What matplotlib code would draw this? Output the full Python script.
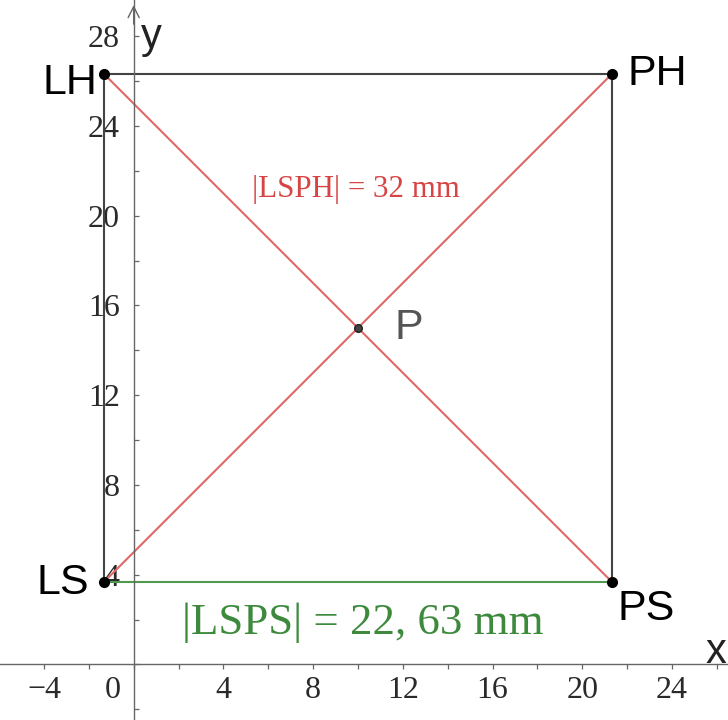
"""
正方形 LS-PS-PH-LH 与对角线交点 P（GeoGebra 风格）
"""
import matplotlib
matplotlib.use('Agg')
import matplotlib.pyplot as plt
from matplotlib.ticker import MultipleLocator, FixedLocator

# 顶点数据
names  = ["LS", "PS", "PH", "LH"]
xs     = [-1.31, 21.31, 21.31, -1.31]
ys     = [3.69, 3.69, 26.31, 26.31]
p_name = "P"
p_xy   = (10.0, 15.0)

diag_text = "|LSPH| = 32 mm"
side_text = "|LSPS| = 22, 63 mm"

x_ticks = [-4, 4, 8, 12, 16, 20, 24]
y_ticks = [4, 8, 12, 16, 20, 24, 28]

XMIN, XMAX = -5.96, 26.5
YMIN, YMAX = -2.48, 29.62

GRAY  = '#444444'
RED   = '#e06868'
GREEN = '#4f9a4f'
SERIF = 'Liberation Serif'
SANS  = 'Liberation Sans'

fig = plt.figure(figsize=(7.28, 7.2), dpi=100)
ax = fig.add_axes([0, 0, 1, 1])
ax.set_xlim(XMIN, XMAX)
ax.set_ylim(YMIN, YMAX)

# 坐标轴过原点
for s in ['top', 'right']:
    ax.spines[s].set_visible(False)
for s in ['left', 'bottom']:
    ax.spines[s].set_position(('data', 0))
    ax.spines[s].set_color('#666666')
    ax.spines[s].set_linewidth(1.0)

ax.xaxis.set_major_locator(FixedLocator(x_ticks))
ax.yaxis.set_major_locator(FixedLocator(y_ticks))
ax.xaxis.set_minor_locator(MultipleLocator(2))
ax.yaxis.set_minor_locator(MultipleLocator(2))
ax.tick_params(axis='x', which='both', direction='out', length=3.5, width=0.9,
               color='#666666', pad=5, labelsize=23, labelcolor='#2a2a2a')
ax.tick_params(axis='y', which='both', direction='in', length=3.5, width=0.9,
               color='#666666', pad=10, labelsize=23, labelcolor='#2a2a2a')
ax.set_xticklabels([f"{t}" if t >= 0 else f"\u2212{-t}" for t in x_ticks])
for lab in ax.get_xticklabels() + ax.get_yticklabels():
    lab.set_family(SERIF)

# 原点标签
ax.text(-0.95, -0.5, "0", fontsize=23, family=SERIF, color='#2a2a2a',
        ha='center', va='top')

# y 轴箭头
ax.annotate('', xy=(0, YMAX - 0.1), xytext=(0, YMAX - 1.2),
            arrowprops=dict(arrowstyle='->', color='#666666', lw=1.0,
                            mutation_scale=20))
ax.text(0.3, 27.95, "y", fontsize=30, family=SANS, color='#222222', ha='left', va='center')
ax.text(26.45, 0.55, "x", fontsize=30, family=SANS, color='#222222', ha='right', va='center')

# 正方形边
ax.plot([xs[0], xs[3]], [ys[0], ys[3]], color=GRAY, lw=1.5)
ax.plot([xs[3], xs[2]], [ys[3], ys[2]], color=GRAY, lw=1.5)
ax.plot([xs[2], xs[1]], [ys[2], ys[1]], color=GRAY, lw=1.5)
ax.plot([xs[0], xs[1]], [ys[0], ys[1]], color=GREEN, lw=1.5)

# 对角线
ax.plot([xs[0], xs[2]], [ys[0], ys[2]], color=RED, lw=1.5)
ax.plot([xs[3], xs[1]], [ys[3], ys[1]], color=RED, lw=1.5)

# 顶点
ax.plot(xs, ys, 'o', color='black', ms=7, zorder=5, ls='none')
ax.plot([p_xy[0]], [p_xy[1]], 'o', color='#444444', mec='#222222', ms=5.5, zorder=5)

offsets = {"LS": (-11, -1, 'right'), "PS": (4, -20, 'left'),
           "PH": (11.5, 0, 'left'), "LH": (-5, -6, 'right')}
for n, x, y in zip(names, xs, ys):
    dx, dy, ha = offsets[n]
    ax.annotate(n, xy=(x, y), xytext=(dx, dy), textcoords='offset points',
                ha=ha, va='center', fontsize=31, family=SANS, color='black')
ax.annotate(p_name, xy=p_xy, xytext=(26, 0), textcoords='offset points',
            ha='left', va='center', fontsize=31, family=SANS, color='#555555')

ax.text(9.9, 20.83, diag_text, fontsize=22.2, family=SERIF, color='#d84444',
        ha='center', va='baseline')
ax.text(10.2, 1.35, side_text, fontsize=32.3, family=SERIF, color='#3d8a3d',
        ha='center', va='baseline')

plt.savefig("out.png", dpi=100)
